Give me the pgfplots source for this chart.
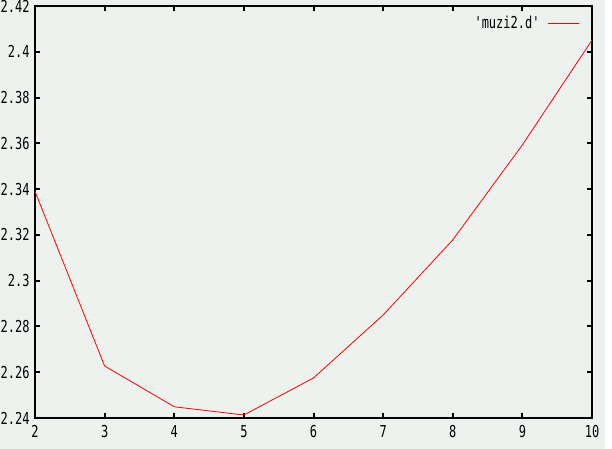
\documentclass[border=0pt]{standalone}
\usepackage{fontspec}
\setmainfont{DejaVu Sans}
\newfontfamily\tickfont[FakeStretch=0.73]{DejaVu Sans Mono}
\usepackage{pgfplots}
\pgfplotsset{compat=1.18}
\definecolor{bgc}{HTML}{EEF2EE}
\begin{document}
\begin{tikzpicture}[x=1bp,y=1bp]
\fill[bgc] (0,0) rectangle (605,449);
\fill[white] (605,0) rectangle (612,449);
\path[use as bounding box] (0,0) rectangle (612,449);
\begin{axis}[
  at={(35bp,31bp)}, anchor=south west,
  scale only axis, width=557bp, height=412bp,
  xmin=2, xmax=10, ymin=2.24, ymax=2.42,
  xtick={2,3,4,5,6,7,8,9,10},
  ytick={2.24,2.26,2.28,2.3,2.32,2.34,2.36,2.38,2.4,2.42},
  yticklabels={2.24,2.26,2.28,2.3,2.32,2.34,2.36,2.38,2.4,2.42},
  xticklabels={2,3,4,5,6,7,8,9,10},
  axis line style={line width=2bp},
  tick style={line width=2bp, black},
  major tick length=5bp,
  tick align=inside,
  ticklabel style={font=\tickfont\fontsize{16.5}{16.5}\selectfont},
  yticklabel style={xshift=-2bp},
  xticklabel style={yshift=-4bp},
  legend style={draw=none, fill=none, at={(0.983,0.985)}, anchor=north east,
    font=\tickfont\fontsize{16.5}{16.5}\selectfont, column sep=6bp},
  legend plot pos=right,
  legend cell align=right,
  legend image code/.code={\draw[#1] (0bp,0bp) -- (31bp,0bp);},
]
\addplot[red, line width=0.8bp] coordinates {
  (2,2.3390) (3,2.2627) (4,2.2449) (5,2.2413) (6,2.2575)
  (7,2.2850) (8,2.3178) (9,2.3593) (10,2.4051)
};
\addlegendentry{'muzi2.d'}
\end{axis}
\end{tikzpicture}
\end{document}
